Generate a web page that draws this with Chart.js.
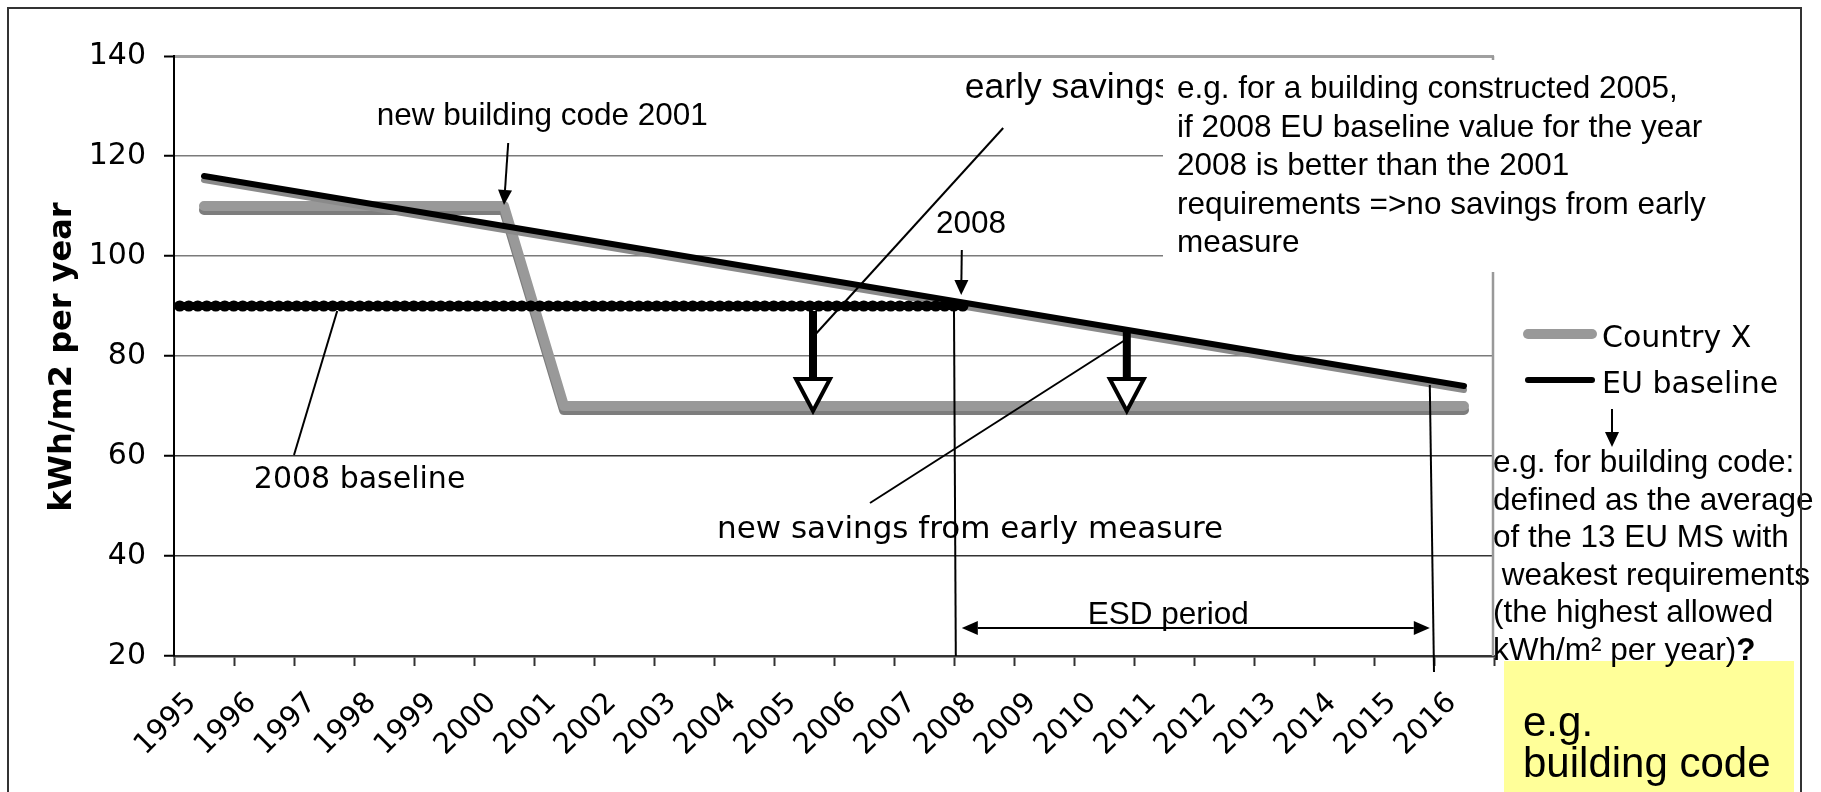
<!DOCTYPE html>
<html>
<head>
<meta charset="utf-8">
<title>EU baseline vs Country X</title>
<script src="https://cdn.jsdelivr.net/npm/chart.js@4.4.1/dist/chart.umd.min.js"></script>
<style>
  html, body { margin: 0; padding: 0; background: #fff; overflow: hidden; }
  #wrap { position: relative; width: 1821px; height: 792px; }
  #frame { position: absolute; left: 7px; top: 7px; width: 1795px; height: 830px; border: 2px solid #333; box-sizing: border-box; pointer-events: none; }
</style>
</head>
<body>
<div id="wrap">
  <canvas id="chart" width="1821" height="792"></canvas>
  <div id="frame"></div>
</div>
<script>
// data
const years = ["1995", "1996", "1997", "1998", "1999", "2000", "2001", "2002", "2003", "2004", "2005",
  "2006", "2007", "2008", "2009", "2010", "2011", "2012", "2013", "2014", "2015", "2016"];
const countryX = [110, 110, 110, 110, 110, 110, 70, 70, 70, 70, 70, 70, 70, 70, 70, 70, 70, 70, 70, 70, 70, 70];
const euBaseline = [116, 114, 112, 110, 108, 106, 104, 102, 100, 98, 96, 94, 92, 90, 88, 86, 84, 82, 80, 78, 76, 74];
const baseline2008 = 90;
const yTicks = [20, 40, 60, 80, 100, 120, 140];

// notes
const boxNote = ["e.g. for a building constructed 2005,", "if 2008 EU baseline value for the year",
  "2008 is better than the 2001", "requirements =>no savings from early", "measure"];
const sideNote = ["e.g. for building code:", "defined as the average", "of the 13 EU MS with",
  " weakest requirements", "(the highest allowed", "kWh/m\u00B2 per year)"];
const yellowNote = ["e.g.", "building code"];

const ARIAL = '"Liberation Sans", Arial, sans-serif';
const VERDANA = '"DejaVu Sans", Verdana, sans-serif';

function seg(ctx, x1, y1, x2, y2, w) {
  ctx.lineWidth = w;
  ctx.beginPath();
  ctx.moveTo(x1, y1);
  ctx.lineTo(x2, y2);
  ctx.stroke();
}

// line with a filled head at (x2, y2)
function arrow(ctx, x1, y1, x2, y2, len, half) {
  const ang = Math.atan2(y2 - y1, x2 - x1);
  const bx = x2 - len * Math.cos(ang), by = y2 - len * Math.sin(ang);
  seg(ctx, x1, y1, bx, by, 2);
  ctx.beginPath();
  ctx.moveTo(x2, y2);
  ctx.lineTo(bx + half * Math.sin(ang), by - half * Math.cos(ang));
  ctx.lineTo(bx - half * Math.sin(ang), by + half * Math.cos(ang));
  ctx.closePath();
  ctx.fill();
}

// thick arrow with white head
function openArrow(ctx, x, yTop, yTip) {
  const headLen = 32, half = 17;
  seg(ctx, x, yTop, x, yTip - headLen, 8);
  ctx.beginPath();
  ctx.moveTo(x - half, yTip - headLen);
  ctx.lineTo(x + half, yTip - headLen);
  ctx.lineTo(x, yTip);
  ctx.closePath();
  ctx.fillStyle = "#fff";
  ctx.fill();
  ctx.lineWidth = 4;
  ctx.lineJoin = "miter";
  ctx.stroke();
  ctx.fillStyle = "#000";
}

// drop shadow under the lines (Excel look)
const shadowPlugin = {
  id: "lineShadow",
  beforeDatasetDraw(chart, args) {
    const ds = chart.data.datasets[args.index];
    if (!ds.shadowColor) return;
    const ctx = chart.ctx;
    ctx.save();
    ctx.shadowColor = ds.shadowColor;
    ctx.shadowOffsetY = ds.shadowOffset;
    ctx.shadowBlur = 0;
  },
  afterDatasetDraw(chart, args) {
    if (chart.data.datasets[args.index].shadowColor) chart.ctx.restore();
  }
};

const notesPlugin = {
  id: "notes",
  beforeDatasetsDraw(chart) {
    const { ctx, chartArea: a } = chart;
    ctx.save();
    ctx.strokeStyle = "#999";
    seg(ctx, a.right - 1, a.top, a.right - 1, a.bottom, 2.5);
    ctx.restore();
  },
  afterDatasetsDraw(chart) {
    const { ctx, chartArea: a, scales } = chart;
    const px = i => scales.x.getPixelForValue(i);
    const py = v => scales.y.getPixelForValue(v);
    ctx.save();
    ctx.strokeStyle = "#000";
    ctx.fillStyle = "#000";
    ctx.textBaseline = "alphabetic";
    ctx.textAlign = "left";

    // 2008 baseline (round dots)
    ctx.save();
    ctx.lineCap = "round";
    ctx.setLineDash([0.5, 8.5]);
    seg(ctx, a.left + 5.5, py(baseline2008), px(12.77) - 5.5, py(baseline2008), 11);
    ctx.restore();

    ctx.font = "30px " + VERDANA;
    ctx.fillText("2008 baseline", px(0.83), py(53.6));
    seg(ctx, px(1.5), py(60.2), px(2.22), py(89), 2);

    // new building code
    ctx.font = "31.5px " + ARIAL;
    ctx.fillText("new building code 2001", px(2.88), py(126.2));
    arrow(ctx, px(5.07), py(122.6), px(5.0), py(110.2), 15, 7);

    // early savings (partly hidden by the text box)
    ctx.font = "35.5px " + ARIAL;
    ctx.fillText("early savings", px(12.68), py(131.6));
    seg(ctx, px(13.32), py(125.6), px(10.18), py(84.2), 2);

    // savings arrows
    openArrow(ctx, px(10.15), py(89), py(69));
    openArrow(ctx, px(15.38), py(85), py(69));

    // new savings
    ctx.font = "31px " + VERDANA;
    ctx.fillText("new savings from early measure", px(8.55), py(43.6));
    seg(ctx, px(11.1), py(50.6), px(15.43), py(83.8), 2);

    // 2008 marker
    ctx.font = "31.5px " + ARIAL;
    ctx.fillText("2008", px(12.2), py(104.6));
    arrow(ctx, px(12.63), py(101.2), px(12.62), py(92.2), 15, 7);

    // ESD period
    seg(ctx, px(12.5), py(89), px(12.53), py(20), 2);
    seg(ctx, px(20.43), py(74.2), px(20.5), py(16.8), 2);
    const yEsd = py(25.6);
    arrow(ctx, px(16.5), yEsd, px(20.43), yEsd, 16, 7);
    arrow(ctx, px(16.5), yEsd, px(12.63), yEsd, 16, 7);
    ctx.fillText("ESD period", px(14.73), py(26.4));

    // white text box
    ctx.fillStyle = "#fff";
    ctx.fillRect(1163, 60, 554, 212);
    ctx.fillStyle = "#000";
    boxNote.forEach((t, i) => ctx.fillText(t, 1177, 98 + i * 38.5));
    ctx.restore();
  },
  afterDraw(chart) {
    const { ctx } = chart;
    ctx.save();
    ctx.fillStyle = "#000";
    ctx.strokeStyle = "#000";

    // y axis title
    ctx.save();
    ctx.translate(71, 357);
    ctx.rotate(-Math.PI / 2);
    ctx.font = "bold 32px " + VERDANA;
    ctx.textAlign = "center";
    ctx.fillText("kWh/m2 per year", 0, 0);
    ctx.restore();

    // legend
    ctx.font = "30px " + VERDANA;
    ctx.lineCap = "round";
    chart.data.datasets.forEach((ds, i) => {
      const y = 334 + i * 46;
      ctx.strokeStyle = ds.borderColor;
      seg(ctx, 1528, y, 1592, y, ds.borderWidth);
      ctx.fillText(ds.label, 1602, y + 13);
    });
    ctx.lineCap = "butt";
    ctx.strokeStyle = "#000";
    arrow(ctx, 1612, 409, 1612, 447, 15, 7);

    // yellow box
    ctx.fillStyle = "#ffff99";
    ctx.fillRect(1504, 661, 290, 140);
    ctx.fillStyle = "#000";
    ctx.font = "42px " + ARIAL;
    yellowNote.forEach((t, i) => ctx.fillText(t, 1523, 736 + i * 41));

    // side note
    ctx.font = "31.5px " + ARIAL;
    const y0 = 472, dy = 37.5;
    sideNote.forEach((t, i) => ctx.fillText(t, 1493, y0 + i * dy));
    const last = sideNote[sideNote.length - 1];
    const w = ctx.measureText(last).width;
    ctx.font = "bold 31.5px " + ARIAL;
    ctx.fillText("?", 1493 + w, y0 + 5 * dy);
    ctx.restore();
  }
};

const chart = new Chart(document.getElementById("chart"), {
  type: "line",
  data: {
    labels: years,
    datasets: [
      {
        label: "Country X",
        data: countryX,
        borderColor: "#999999",
        borderWidth: 10,
        shadowColor: "#7d7d7d",
        shadowOffset: 4,
        borderCapStyle: "round",
        borderJoinStyle: "round",
        pointRadius: 0,
        tension: 0,
        order: 2
      },
      {
        label: "EU baseline",
        data: euBaseline,
        borderColor: "#000000",
        borderWidth: 6,
        shadowColor: "#8a8a8a",
        shadowOffset: 4,
        borderCapStyle: "round",
        borderJoinStyle: "round",
        pointRadius: 0,
        tension: 0,
        order: 1
      }
    ]
  },
  options: {
    responsive: false,
    animation: false,
    devicePixelRatio: 1,
    layout: { padding: { left: 0, top: 56, right: 327, bottom: 0 } },
    plugins: {
      legend: { display: false },
      tooltip: { enabled: false }
    },
    scales: {
      x: {
        offset: true,
        grid: { offset: true, drawOnChartArea: false, tickLength: 10, tickColor: "#333", tickWidth: 2 },
        border: { color: "#333", width: 2.5 },
        ticks: {
          autoSkip: false,
          minRotation: 45,
          maxRotation: 45,
          labelOffset: -12,
          padding: 20,
          color: "#000",
          font: { family: VERDANA, size: 29 }
        },
        afterFit: s => { s.height = 136; }
      },
      y: {
        min: 20,
        max: 140,
        afterBuildTicks: s => { s.ticks = yTicks.map(v => ({ value: v })); },
        grid: {
          color: c => c.tick && c.tick.value === 140 ? "#a0a0a0" : (c.tick && c.tick.value >= 80 ? "#7a7a7a" : "#333"),
          lineWidth: c => c.tick && c.tick.value === 140 ? 3 : 1.5,
          tickLength: 10,
          tickColor: "#000",
          tickWidth: 2
        },
        border: { color: "#000", width: 2 },
        ticks: { padding: 18, color: "#000", font: { family: VERDANA, size: 30 } },
        afterFit: s => { s.width = 174; }
      }
    }
  },
  plugins: [shadowPlugin, notesPlugin]
});
</script>
</body>
</html>
